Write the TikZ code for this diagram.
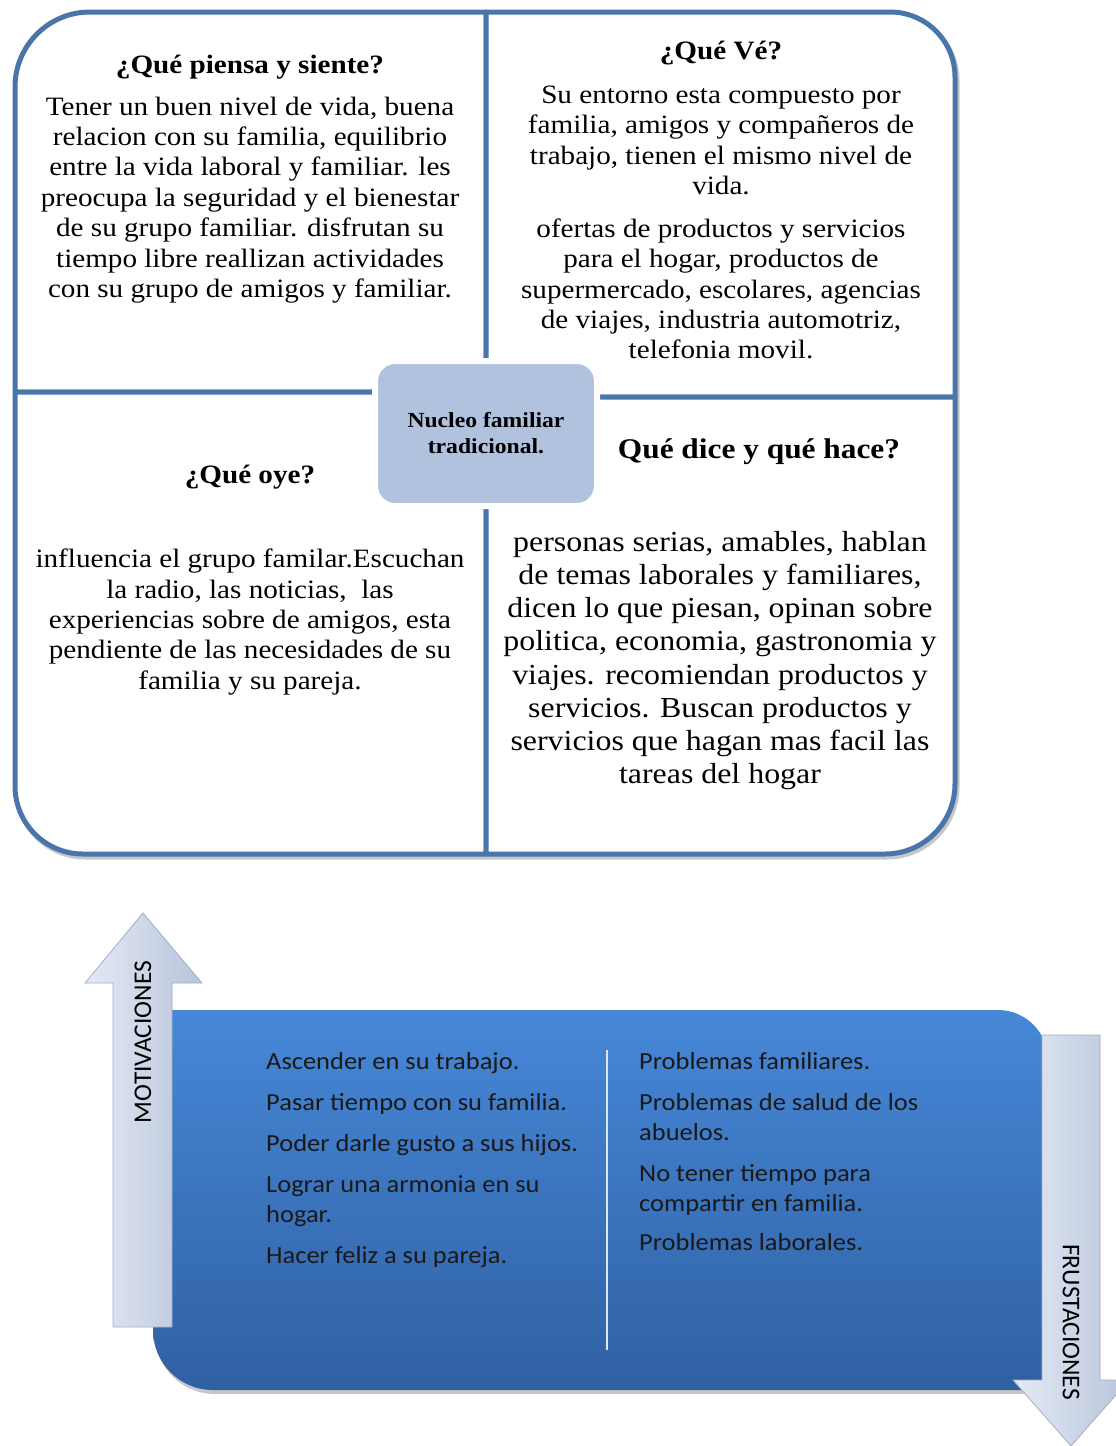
\documentclass[tikz,border=0pt]{standalone}
\usepackage{fontspec}
\setmainfont[FakeStretch=1.1]{Liberation Serif}
\newfontfamily\boxfont[FakeStretch=1.08]{Carlito}
\newfontfamily\arrowfont{Carlito}
\usepackage{tikz}
\usetikzlibrary{shadows}
\definecolor{quadline}{RGB}{74,117,171}
\definecolor{nucleofill}{RGB}{177,194,222}
\definecolor{boxtop}{RGB}{70,136,216}
\definecolor{boxbottom}{RGB}{48,96,162}
\definecolor{arrowlight}{RGB}{228,234,246}
\definecolor{arrowmid}{RGB}{208,219,238}
\definecolor{arrowside}{RGB}{184,196,218}
\definecolor{arrowdark}{RGB}{160,174,198}
\def\qsize{\fontsize{26.5}{30.4}\selectfont}
\tikzset{
	quadrant/.style={fill=white, draw=quadline, line width=5pt, line join=round},
	qtitle/.style={inner sep=0pt, font=\bfseries\fontsize{26.5}{30}\selectfont},
	qbody/.style={inner sep=0pt, align=center, font=\qsize},
	nucleo/.style={rounded corners=20pt, fill=nucleofill, draw=white, line width=6pt, minimum width=222pt, minimum height=145pt, align=center, font=\bfseries\fontsize{21.5}{26}\selectfont, drop shadow={shadow xshift=1pt, shadow yshift=-2pt, opacity=0.3}},
	boxtext/.style={inner sep=0pt, align=left, text=black!90, font=\boxfont\fontsize{24.5}{30}\selectfont},
	arrowshape/.style={left color=arrowlight, middle color=arrowmid, right color=arrowside, draw=arrowdark, line width=0.8pt, line join=round},
	arrowtext/.style={inner sep=0pt, font=\arrowfont\fontsize{25.5}{30}\selectfont}
}
\begin{document}
\begin{tikzpicture}[x=1pt,y=1pt]
	\useasboundingbox (0,0) rectangle (1116,-1446);
	\fill[white] (0,0) rectangle (1116,-1446);
	
	\draw[black!22, line width=5pt, xshift=2pt, yshift=-3pt] (15,-87) arc (180:90:75) -- (890,-12) arc (90:0:65) -- (955,-784) arc (0:-90:70) -- (83,-854) arc (270:180:68) -- cycle;
	
	\draw[quadrant] (15,-87) arc (180:90:75) -- (486,-12) -- (486,-392) -- (15,-392) -- cycle;
	\draw[quadrant] (486,-12) -- (890,-12) arc (90:0:65) -- (955,-397) -- (486,-397) -- cycle;
	\draw[quadrant] (15,-392) -- (486,-392) -- (486,-854) -- (83,-854) arc (270:180:68) -- cycle;
	\draw[quadrant] (486,-397) -- (955,-397) -- (955,-784) arc (0:-90:70) -- (486,-854) -- cycle;
	
	\node[qtitle] (piensa) at (250,-67) {¿Qué piensa y siente?};
	\node[qbody] (piensatext) at (250,-200) {Tener un buen nivel de vida, buena\\relacion con su familia, equilibrio\\entre la vida laboral y familiar. les\\preocupa la seguridad y el bienestar\\de su grupo familiar. disfrutan su\\tiempo libre reallizan actividades\\con su grupo de amigos y familiar.};
	
	\node[qtitle] (ve) at (721,-53) {¿Qué Vé?};
	\node[qbody] (vetext) at (721,-222.5) {Su entorno esta compuesto por\\familia, amigos y compañeros de\\trabajo, tienen el mismo nivel de\\vida.\\[12.5pt]ofertas de productos y servicios\\para el hogar, productos de\\supermercado, escolares, agencias\\de viajes, industria automotriz,\\telefonia movil.};
	
	\node[qtitle] (oye) at (250,-477) {¿Qué oye?};
	\node[qbody] (oyetext) at (250,-622) {influencia el grupo familar.Escuchan\\la radio, las noticias,\ \ las\\experiencias sobre de amigos, esta\\pendiente de las necesidades de su\\familia y su pareja.};
	
	\node[qtitle, font=\bfseries\fontsize{28.5}{33}\selectfont] (dice) at (759,-452) {Qué dice y qué hace?};
	\node[qbody, font=\fontsize{29}{33.2}\selectfont] (dicetext) at (720,-660.5) {personas serias, amables, hablan\\de temas laborales y familiares,\\dicen lo que piesan, opinan sobre\\politica, economia, gastronomia y\\viajes. recomiendan productos y\\servicios. Buscan productos y\\servicios que hagan mas facil las\\tareas del hogar};
	
	\node[nucleo] (centro) at (486,-433.5) {Nucleo familiar\\tradicional.};
	
	\fill[black!22, xshift=2pt, yshift=-4pt] (153,-1010) -- (998,-1010) arc (90:0:50) -- (1048,-1390) -- (213,-1390) arc (270:180:60) -- cycle;
	\shade[top color=boxtop, bottom color=boxbottom] (153,-1010) -- (998,-1010) arc (90:0:50) -- (1048,-1390) -- (213,-1390) arc (270:180:60) -- cycle;
	\draw[white!80!boxtop, line width=2pt] (607,-1050) -- (607,-1350);
	
	\node[boxtext, anchor=west] (motivos) at (266,-1160) {Ascender en su trabajo.\\[11pt]Pasar tiempo con su familia.\\[11pt]Poder darle gusto a sus hijos.\\[11pt]Lograr una armonia en su\\hogar.\\[11pt]Hacer feliz a su pareja.};
	\node[boxtext, anchor=west] (frustra) at (639,-1152) {Problemas familiares.\\[11pt]Problemas de salud de los\\abuelos.\\[11pt]No tener tiempo para\\compartir en familia.\\[9pt]Problemas laborales.};
	
	\draw[arrowshape] (113,-1327) -- (113,-983) -- (85,-983) -- (143,-913) -- (202,-983) -- (172,-983) -- (172,-1327) -- cycle;
	\draw[arrowshape] (1042,-1035) -- (1100,-1035) -- (1100,-1380) -- (1129,-1380) -- (1071,-1446) -- (1013,-1380) -- (1042,-1380) -- cycle;
	\node[arrowtext, rotate=90] (motivaciones) at (143,-1042) {MOTIVACIONES};
	\node[arrowtext, rotate=-90] (frustaciones) at (1071,-1322) {FRUSTACIONES};
\end{tikzpicture}
\end{document}
